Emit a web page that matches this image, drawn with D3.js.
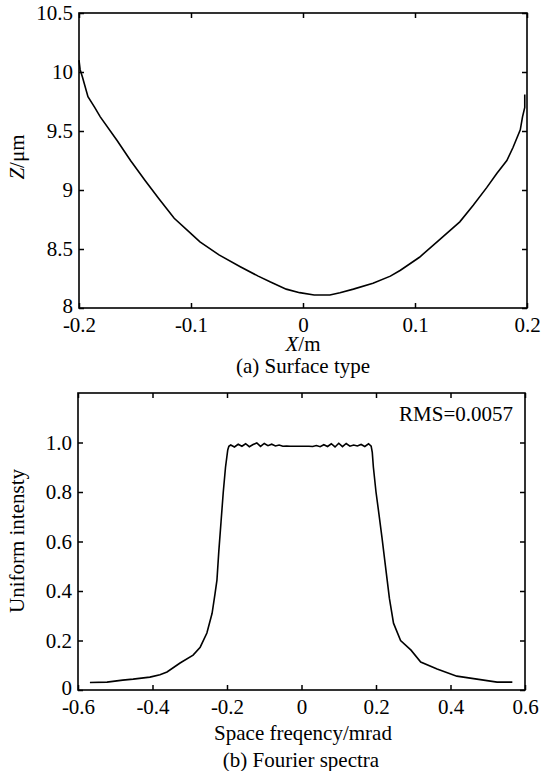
<!DOCTYPE html>
<html>
<head>
<meta charset="utf-8">
<script src="https://cdn.jsdelivr.net/npm/d3@7"></script>
<style>
  body { margin: 0; background: #fff; }
  svg text { font-family: "Liberation Serif", "Times New Roman", serif; fill: #000; }
</style>
</head>
<body>
<div id="container"></div>
<script>
// Surface type data (x in m, z in um)
var surfX = [-0.2, -0.199, -0.197, -0.192, -0.186, -0.181, -0.166, -0.154, -0.141, -0.129,
             -0.115, -0.1, -0.092, -0.075, -0.056, -0.04, -0.029, -0.015, -0.003, 0.01,
             0.024, 0.033, 0.045, 0.0625, 0.078, 0.087, 0.104, 0.122, 0.14, 0.152,
             0.164, 0.173, 0.182, 0.1875, 0.194, 0.196, 0.198, 0.198];
var surfZ = [10.10, 10.02, 9.96, 9.79, 9.70, 9.62, 9.42, 9.25, 9.08, 8.93,
             8.76, 8.63, 8.56, 8.45, 8.35, 8.27, 8.22, 8.16, 8.13, 8.11,
             8.11, 8.13, 8.16, 8.21, 8.27, 8.32, 8.43, 8.58, 8.73, 8.87,
             9.02, 9.14, 9.25, 9.36, 9.51, 9.62, 9.70, 9.81];

// Fourier spectra data
var specX = [-0.568, -0.522, -0.48, -0.452, -0.407, -0.38, -0.361, -0.326, -0.291, -0.272,
             -0.254, -0.24, -0.232, -0.227, -0.222, -0.216, -0.21, -0.204, -0.198, -0.195,
             -0.19, -0.18, -0.17, -0.16, -0.15, -0.14, -0.13, -0.12, -0.11, -0.1,
             -0.09, -0.08, -0.07, -0.06, -0.05, -0.04, -0.03, -0.02, -0.01, 0,
             0.01, 0.02, 0.03, 0.04, 0.05, 0.06, 0.07, 0.08, 0.09, 0.1,
             0.11, 0.12, 0.13, 0.14, 0.15, 0.16, 0.17, 0.18, 0.187,
             0.19, 0.193, 0.2, 0.208, 0.216, 0.223, 0.23, 0.236, 0.247,
             0.266, 0.294, 0.32, 0.364, 0.417, 0.471, 0.525, 0.566];
var specY = [0.030, 0.032, 0.040, 0.044, 0.052, 0.062, 0.073, 0.109, 0.141, 0.173,
             0.230, 0.310, 0.390, 0.444, 0.560, 0.680, 0.800, 0.900, 0.970, 0.985,
             0.990, 0.982, 0.993, 0.985, 0.995, 0.983, 0.992, 0.998, 0.984, 0.996,
             0.987, 0.993, 0.986, 0.990, 0.985, 0.986, 0.985, 0.985, 0.985, 0.985,
             0.985, 0.985, 0.984, 0.988, 0.983, 0.991, 0.984, 0.995, 0.982, 0.997,
             0.983, 0.996, 0.985, 0.990, 0.986, 0.992, 0.984, 0.995, 0.985,
             0.960, 0.900, 0.800, 0.710, 0.617, 0.530, 0.444, 0.370, 0.270,
             0.200, 0.161, 0.113, 0.085, 0.056, 0.044, 0.032, 0.032];

// Tick values
var surfXTicks = [-0.2, -0.1, 0, 0.1, 0.2];
var surfYTicks = [8, 8.5, 9, 9.5, 10, 10.5];
var specXTicks = [-0.6, -0.4, -0.2, 0, 0.2, 0.4, 0.6];
var specYTicks = [0, 0.2, 0.4, 0.6, 0.8, 1.0];

var svg = d3.select("#container")
    .append("svg")
    .attr("width", 541)
    .attr("height", 771);

function drawPanel(opt) {
    var g = svg.append("g")
        .attr("transform", "translate(" + opt.left + "," + opt.top + ")");

    var x = d3.scaleLinear().domain(opt.xDomain).range([0, opt.width]);
    var y = d3.scaleLinear().domain(opt.yDomain).range([opt.height, 0]);

    // bottom and left axes with labels
    var bx = g.append("g")
        .attr("transform", "translate(0," + opt.height + ")")
        .call(d3.axisBottom(x).tickValues(opt.xTicks).tickFormat(opt.xFmt)
              .tickSizeInner(-5).tickSizeOuter(0).tickPadding(9));
    var ly = g.append("g")
        .call(d3.axisLeft(y).tickValues(opt.yTicks).tickFormat(opt.yFmt)
              .tickSizeInner(-5).tickSizeOuter(0).tickPadding(6));
    // mirrored ticks on top and right
    var tx = g.append("g")
        .call(d3.axisTop(x).tickValues(opt.xTicks).tickFormat("")
              .tickSizeInner(-5).tickSizeOuter(0));
    var ry = g.append("g")
        .attr("transform", "translate(" + opt.width + ",0)")
        .call(d3.axisRight(y).tickValues(opt.yTicks).tickFormat("")
              .tickSizeInner(-5).tickSizeOuter(0));

    [bx, ly, tx, ry].forEach(function(a) {
        a.select(".domain").remove();
        a.selectAll(".tick line").attr("stroke", "#000").attr("stroke-width", 1.5);
        a.selectAll("text").style("font-size", "21px")
            .style("font-family", "Liberation Serif, serif").attr("fill", "#000");
    });
    // nudge the lowest y label up a little, like the reference
    ly.selectAll(".tick text").filter(function(d) { return d === opt.yDomain[0]; })
        .attr("dy", "0.2em");

    // frame
    g.append("rect")
        .attr("width", opt.width)
        .attr("height", opt.height)
        .attr("fill", "none")
        .attr("stroke", "#000")
        .attr("stroke-width", 1.6);

    // curve
    var pts = opt.xs.map(function(d, i) { return [d, opt.ys[i]]; });
    var line = d3.line()
        .x(function(d) { return x(d[0]); })
        .y(function(d) { return y(d[1]); });
    g.append("path")
        .datum(pts)
        .attr("d", line)
        .attr("fill", "none")
        .attr("stroke", "#000")
        .attr("stroke-width", 1.6);

    return g;
}

// (a) Surface type
drawPanel({
    left: 79, top: 13, width: 448, height: 295,
    xDomain: [-0.2, 0.2], yDomain: [8, 10.5],
    xTicks: surfXTicks, yTicks: surfYTicks,
    xFmt: function(d) { return String(d); },
    yFmt: function(d) { return String(d); },
    xs: surfX, ys: surfZ
});

// (b) Fourier spectra
drawPanel({
    left: 78, top: 393, width: 447, height: 297,
    xDomain: [-0.6, 0.6], yDomain: [0, 1.2],
    xTicks: specXTicks, yTicks: specYTicks,
    xFmt: function(d) { return d === 0 ? "0" : d.toFixed(1); },
    yFmt: function(d) { return d === 0 ? "0" : d.toFixed(1); },
    xs: specX, ys: specY
});

// axis titles and captions
var zl = svg.append("text")
    .attr("transform", "translate(24,157) rotate(-90)")
    .attr("text-anchor", "middle")
    .style("font-size", "21px");
zl.append("tspan").style("font-style", "italic").text("Z");
zl.append("tspan").text("/\u03bcm");

var xl = svg.append("text")
    .attr("x", 303).attr("y", 351)
    .attr("text-anchor", "middle")
    .style("font-size", "21px");
xl.append("tspan").style("font-style", "italic").text("X");
xl.append("tspan").text("/m");

svg.append("text")
    .attr("x", 303).attr("y", 373)
    .attr("text-anchor", "middle")
    .style("font-size", "21px")
    .text("(a) Surface type");

svg.append("text")
    .attr("transform", "translate(24,541) rotate(-90)")
    .attr("text-anchor", "middle")
    .style("font-size", "21px")
    .text("Uniform intensty");

svg.append("text")
    .attr("x", 303).attr("y", 740)
    .attr("text-anchor", "middle")
    .style("font-size", "21px")
    .text("Space freqency/mrad");

svg.append("text")
    .attr("x", 301).attr("y", 767)
    .attr("text-anchor", "middle")
    .style("font-size", "21px")
    .text("(b) Fourier spectra");

svg.append("text")
    .attr("x", 513).attr("y", 421)
    .attr("text-anchor", "end")
    .style("font-size", "21px")
    .text("RMS=0.0057");
</script>
</body>
</html>
